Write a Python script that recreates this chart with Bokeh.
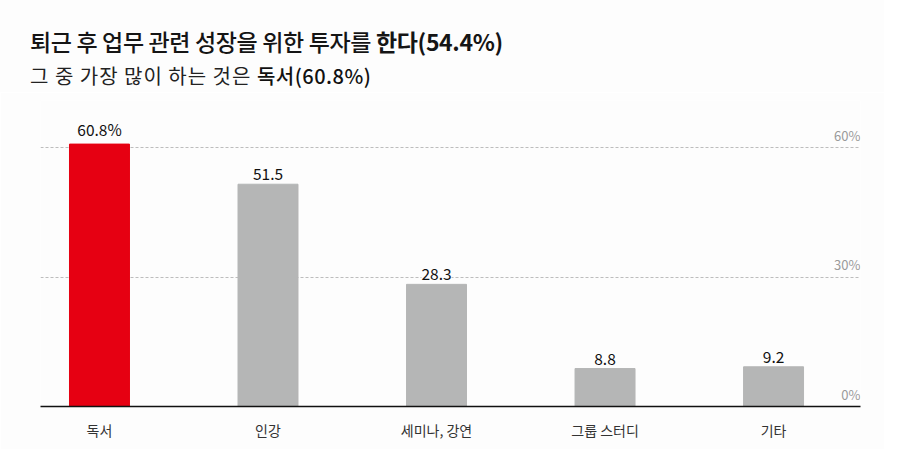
from bokeh.plotting import figure
from bokeh.models import ColumnDataSource, Label, LabelSet, FixedTicker, Range1d, Div
from bokeh.layouts import column
from bokeh.core.properties import value
from bokeh.embed import file_html
from bokeh.resources import INLINE

categories = ["독서", "인강", "세미나, 강연", "그룹 스터디", "기타"]
values = [60.8, 51.5, 28.3, 8.8, 9.2]
value_texts = ["60.8%", "51.5", "28.3", "8.8", "9.2"]
bar_colors = ["#e60012", "#b5b6b6", "#b5b6b6", "#b5b6b6", "#b5b6b6"]
grid_ticks = [30, 60]
axis_ticks = [0, 30, 60]
axis_labels = ["0%", "30%", "60%"]
title_main = "퇴근 후 업무 관련 성장을 위한 투자를 "
title_bold = "한다(54.4%)"
sub_main = "그 중 가장 많이 하는 것은 "
sub_bold = "독서(60.8%)"

BG = "#fdfdfd"
FONT = "Noto Sans CJK KR"

xs = list(range(len(categories)))
src = ColumnDataSource(dict(x=xs, top=values, color=bar_colors, label=value_texts))

title_html = (
    f'<div style="position:relative;width:884px;height:92px;background:{BG};'
    f"font-family:'{FONT}',sans-serif;\">"
    f'<div style="position:absolute;left:30px;top:25px;font-size:23px;line-height:32px;'
    f'font-weight:500;color:#151515;white-space:nowrap;letter-spacing:-0.35px;">{title_main}'
    f'<span style="font-weight:700;">{title_bold}</span></div>'
    f'<div style="position:absolute;left:30px;top:61px;font-size:20px;line-height:30px;'
    f'font-weight:400;color:#222222;white-space:nowrap;letter-spacing:1px;">{sub_main}'
    f'<span style="font-weight:500;color:#111111;letter-spacing:0.5px;">{sub_bold}</span></div>'
    f'</div>'
)
div = Div(text=title_html, width=884, height=92, margin=0)

p = figure(width=884, height=357, output_backend="svg", toolbar_location=None,
           x_range=Range1d(-0.350, 4.516), y_range=Range1d(0, 70.9),
           min_border_left=40, min_border_right=24, min_border_top=8, min_border_bottom=43,
           margin=0)
p.background_fill_color = BG
p.border_fill_color = BG
p.outline_line_color = None

p.vbar(x="x", top="top", width=0.356, color="color", source=src)

p.yaxis.visible = False
p.xgrid.visible = False
p.ygrid.ticker = FixedTicker(ticks=grid_ticks)
p.ygrid.grid_line_color = "#bdbdbd"
p.ygrid.grid_line_dash = "3 2"
p.ygrid.grid_line_width = 1

xa = p.xaxis[0]
xa.ticker = FixedTicker(ticks=xs)
xa.major_label_overrides = {i: c for i, c in enumerate(categories)}
xa.major_tick_line_color = None
xa.major_tick_out = 0
xa.major_tick_in = 0
xa.minor_tick_line_color = None
xa.axis_line_color = "#111111"
xa.axis_line_width = 1.5
xa.major_label_text_font = FONT
xa.major_label_text_font_size = "14px"
xa.major_label_text_color = "#333333"
xa.major_label_standoff = 13

labels = LabelSet(x="x", y="top", text="label", source=src, text_align="center",
                  text_baseline="bottom", y_offset=4, text_font=value(FONT),
                  text_font_size=value("15.5px"), text_color=value("#111111"),
                  background_fill_color=BG)
p.add_layout(labels)

for t, lab in zip(axis_ticks, axis_labels):
    p.add_layout(Label(x=4.516, y=t, text=lab, text_align="right", text_baseline="bottom",
                       y_offset=3, text_font=FONT, text_font_size="13px", text_color="#9a9a9a"))

layout = column(div, p, spacing=0)
open("out.html", "w").write(file_html(layout, INLINE))
